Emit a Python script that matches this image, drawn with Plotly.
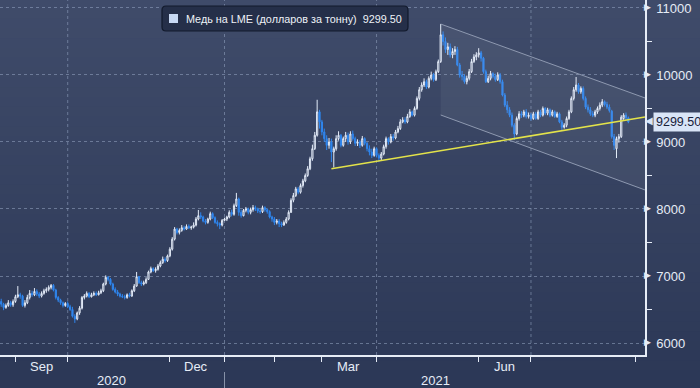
import plotly.graph_objects as go
import pandas as pd

# ---------------- data ----------------
dates = pd.bdate_range("2020-08-24", periods=265)

open_ = [
    6620, 6580, 6530, 6560, 6600,
    6570, 6620, 6690, 6720, 6700,
    6560, 6600, 6680, 6740, 6720,
    6770, 6730, 6700, 6740, 6780,
    6800, 6830, 6860, 6790, 6680,
    6640, 6600, 6560, 6590, 6540,
    6500, 6400, 6360, 6450, 6520,
    6680, 6700, 6740, 6690, 6720,
    6740, 6720, 6750, 6780, 6880,
    6980, 6950, 6880, 6800, 6760,
    6730, 6700, 6690, 6680, 6720,
    6700, 6780, 6850, 6990, 6900,
    6880, 6900, 6950, 7060, 7110,
    7080, 7100, 7150, 7200, 7250,
    7230, 7300, 7400, 7550, 7700,
    7650, 7680, 7720, 7700, 7740,
    7720, 7730, 7760, 7850, 7900,
    7880, 7820, 7800, 7850, 7930,
    7870, 7800, 7780, 7760, 7830,
    7850, 7880, 7950, 7920, 8050,
    8150, 7950, 7900, 7980, 8000,
    7950, 7990, 8020, 8000, 7970,
    7960, 8020, 7990, 7960, 7880,
    7850, 7800, 7820, 7780, 7760,
    7800, 7850, 7950, 8130, 8200,
    8300, 8250, 8350, 8420, 8500,
    8600, 8750, 8900, 9100, 9450,
    9300, 9150, 9050, 8950, 9000,
    8850, 8900, 9050, 9100, 8950,
    9050, 9100, 9000, 9120, 9050,
    8980, 9000, 8950, 9050, 8980,
    8900, 8850, 8800, 8900, 8800,
    8760, 8820, 8930, 9050, 9000,
    9080, 9060, 9150, 9200, 9300,
    9330, 9300, 9380, 9450, 9400,
    9500, 9650, 9780, 9850, 9900,
    9820, 9950, 10000, 9930, 10050,
    10200, 10600, 10500, 10380, 10420,
    10300, 10350, 10380, 10150, 10000,
    9980, 9900, 9950, 10050, 10200,
    10270, 10300, 10330, 10250, 10050,
    9900, 9950, 10020, 9980, 9930,
    10000, 9900, 9700, 9550, 9480,
    9400, 9250, 9120, 9350, 9420,
    9400, 9450, 9380, 9400, 9350,
    9420, 9350, 9450, 9400, 9500,
    9430, 9480, 9400, 9450, 9380,
    9420, 9300, 9220, 9250, 9350,
    9450, 9650, 9780, 9850, 9750,
    9800, 9650, 9520, 9480, 9420,
    9400, 9450, 9500, 9550, 9600,
    9560, 9520, 9460, 9080, 8900,
    9050, 9080, 9350, 9400, 9360,
]

close = [
    6580, 6530, 6560, 6600, 6570,
    6620, 6690, 6720, 6700, 6560,
    6600, 6680, 6740, 6720, 6770,
    6730, 6700, 6740, 6780, 6800,
    6830, 6860, 6790, 6680, 6640,
    6600, 6560, 6590, 6540, 6500,
    6400, 6360, 6450, 6520, 6680,
    6700, 6740, 6690, 6720, 6740,
    6720, 6750, 6780, 6880, 6980,
    6950, 6880, 6800, 6760, 6730,
    6700, 6690, 6680, 6720, 6700,
    6780, 6850, 6990, 6900, 6880,
    6900, 6950, 7060, 7110, 7080,
    7100, 7150, 7200, 7250, 7230,
    7300, 7400, 7550, 7700, 7650,
    7680, 7720, 7700, 7740, 7720,
    7730, 7760, 7850, 7900, 7880,
    7820, 7800, 7850, 7930, 7870,
    7800, 7780, 7760, 7830, 7850,
    7880, 7950, 7920, 8050, 8150,
    7950, 7900, 7980, 8000, 7950,
    7990, 8020, 8000, 7970, 7960,
    8020, 7990, 7960, 7880, 7850,
    7800, 7820, 7780, 7760, 7800,
    7850, 7950, 8130, 8200, 8300,
    8250, 8350, 8420, 8500, 8600,
    8750, 8900, 9100, 9450, 9300,
    9150, 9050, 8950, 9000, 8850,
    8900, 9050, 9100, 8950, 9050,
    9100, 9000, 9120, 9050, 8980,
    9000, 8950, 9050, 8980, 8900,
    8850, 8800, 8900, 8800, 8760,
    8820, 8930, 9050, 9000, 9080,
    9060, 9150, 9200, 9300, 9330,
    9300, 9380, 9450, 9400, 9500,
    9650, 9780, 9850, 9900, 9820,
    9950, 10000, 9930, 10050, 10200,
    10600, 10500, 10380, 10420, 10300,
    10350, 10380, 10150, 10000, 9980,
    9900, 9950, 10050, 10200, 10270,
    10300, 10330, 10250, 10050, 9900,
    9950, 10020, 9980, 9930, 10000,
    9900, 9700, 9550, 9480, 9400,
    9250, 9120, 9350, 9420, 9400,
    9450, 9380, 9400, 9350, 9420,
    9350, 9450, 9400, 9500, 9430,
    9480, 9400, 9450, 9380, 9420,
    9300, 9220, 9250, 9350, 9450,
    9650, 9780, 9850, 9750, 9800,
    9650, 9520, 9480, 9420, 9400,
    9450, 9500, 9550, 9600, 9560,
    9520, 9470, 9080, 8950, 9050,
    9080, 9370, 9400, 9360, 9299.5,
]

high = [
    6660, 6600, 6590, 6640, 6630,
    6650, 6720, 6850, 6750, 6720,
    6640, 6720, 6790, 6780, 6820,
    6800, 6760, 6770, 6810, 6830,
    6860, 6880, 6880, 6810, 6700,
    6660, 6620, 6610, 6620, 6570,
    6540, 6430, 6470, 6550, 6700,
    6730, 6770, 6760, 6750, 6770,
    6770, 6780, 6810, 6900, 7010,
    7000, 6970, 6900, 6830, 6790,
    6750, 6730, 6720, 6740, 6750,
    6800, 6880, 7060, 7000, 6930,
    6930, 6980, 7080, 7140, 7130,
    7130, 7180, 7230, 7290, 7280,
    7320, 7430, 7580, 7730, 7720,
    7710, 7760, 7750, 7770, 7770,
    7750, 7800, 7880, 7985, 7950,
    7900, 7850, 7870, 7960, 7950,
    7890, 7830, 7800, 7850, 7870,
    7900, 7980, 7990, 8080, 8240,
    8170, 7990, 8000, 8030, 8020,
    8020, 8060, 8050, 8020, 8000,
    8050, 8040, 8010, 7980, 7900,
    7880, 7850, 7850, 7810, 7830,
    7880, 7980, 8160, 8240, 8330,
    8330, 8380, 8450, 8530, 8640,
    8780, 8960, 9150, 9630, 9480,
    9330, 9200, 9100, 9060, 9050,
    8930, 9100, 9160, 9120, 9080,
    9150, 9140, 9160, 9170, 9080,
    9040, 9030, 9090, 9070, 9000,
    8950, 8900, 8930, 8920, 8830,
    8850, 8960, 9080, 9070, 9120,
    9120, 9180, 9240, 9340, 9370,
    9370, 9420, 9490, 9470, 9530,
    9680, 9820, 9890, 9950, 9930,
    9980, 10050, 10030, 10080, 10230,
    10760, 10650, 10560, 10480, 10470,
    10400, 10430, 10420, 10180, 10060,
    10010, 9990, 10090, 10240, 10310,
    10340, 10400, 10360, 10270, 10080,
    9990, 10060, 10040, 10020, 10040,
    10030, 9930, 9730, 9610, 9520,
    9440, 9280, 9380, 9460, 9460,
    9480, 9490, 9440, 9430, 9450,
    9450, 9480, 9480, 9530, 9520,
    9510, 9500, 9480, 9470, 9450,
    9440, 9330, 9280, 9380, 9480,
    9680, 9820, 9970, 9880, 9830,
    9830, 9680, 9560, 9520, 9460,
    9480, 9530, 9590, 9640, 9620,
    9600, 9560, 9480, 9120, 9080,
    9120, 9400, 9430, 9440, 9380,
]

low = [
    6540, 6490, 6510, 6540, 6540,
    6540, 6600, 6670, 6660, 6540,
    6530, 6580, 6650, 6690, 6700,
    6700, 6670, 6680, 6720, 6750,
    6770, 6800, 6770, 6650, 6610,
    6570, 6530, 6540, 6520, 6480,
    6380, 6300, 6340, 6420, 6500,
    6650, 6680, 6670, 6680, 6700,
    6700, 6710, 6730, 6760, 6860,
    6920, 6860, 6780, 6740, 6700,
    6680, 6670, 6650, 6660, 6680,
    6690, 6760, 6840, 6880, 6850,
    6860, 6880, 6940, 7040, 7060,
    7050, 7080, 7130, 7180, 7200,
    7210, 7280, 7380, 7530, 7620,
    7620, 7660, 7680, 7690, 7700,
    7690, 7710, 7740, 7830, 7850,
    7800, 7770, 7780, 7830, 7850,
    7780, 7740, 7700, 7740, 7820,
    7820, 7860, 7890, 7900, 8030,
    7900, 7870, 7890, 7950, 7920,
    7920, 7960, 7970, 7940, 7930,
    7940, 7960, 7930, 7860, 7810,
    7760, 7770, 7730, 7730, 7750,
    7780, 7830, 7940, 8100, 8180,
    8220, 8230, 8320, 8400, 8480,
    8580, 8720, 8880, 9080, 9200,
    9100, 9000, 8880, 8900, 8700,
    8620, 8870, 9020, 8920, 8930,
    9000, 8960, 8970, 9020, 8940,
    8940, 8910, 8930, 8950, 8860,
    8800, 8760, 8780, 8770, 8700,
    8720, 8800, 8900, 8960, 8980,
    9020, 9040, 9130, 9180, 9280,
    9270, 9280, 9360, 9380, 9380,
    9480, 9620, 9750, 9820, 9790,
    9800, 9920, 9900, 9910, 10030,
    10180, 10440, 10330, 10300, 10260,
    10250, 10300, 10130, 9960, 9920,
    9870, 9860, 9920, 10030, 10180,
    10220, 10260, 10200, 10020, 9880,
    9880, 9920, 9950, 9900, 9910,
    9870, 9680, 9520, 9430, 9370,
    9220, 9030, 9100, 9320, 9360,
    9370, 9350, 9350, 9320, 9330,
    9330, 9330, 9370, 9380, 9400,
    9400, 9370, 9380, 9360, 9360,
    9280, 9180, 9200, 9220, 9330,
    9430, 9620, 9750, 9720, 9720,
    9620, 9490, 9440, 9390, 9370,
    9370, 9420, 9470, 9520, 9530,
    9490, 9440, 9050, 8880, 8760,
    8990, 9060, 9330, 9320, 9280,
]

# trend lines drawn on the chart (date, price endpoints)
channel_dates = ["2021-05-10", "2021-09-07"]
channel_upper = [10760, 9657]
channel_lower = [9403, 8284]
support_dates = ["2021-03-05", "2021-09-07"]
support_values = [8600, 9373]

y_ticks = [6000, 7000, 8000, 9000, 10000, 11000]
y_minor = [6500, 7500, 8500, 9500, 10500]
month_ticks = ["2020-09-01", "2020-10-01", "2020-11-01", "2020-12-01",
               "2021-01-01", "2021-02-01", "2021-03-01", "2021-04-01",
               "2021-05-01", "2021-06-01", "2021-07-01", "2021-08-01",
               "2021-09-01"]
grid_dates = ["2020-10-01", "2021-01-01", "2021-04-01", "2021-07-01"]
month_labels = ["Sep", "Dec", "Mar", "Jun"]
month_label_dates = ["2020-09-16", "2020-12-16", "2021-03-16", "2021-06-16"]
year_labels = ["2020", "2021"]
last_price = 9299.50
series_name = "Медь на LME (долларов за тонну)"

# ---------------- figure ----------------
FONT = "Liberation Sans, Arial, sans-serif"
TXT = "#e6ecf6"
TAG = "#d9e5f7"
Y_RANGE = [5821, 11119]
X_RANGE = ["2020-08-21 12:00", "2021-09-07"]
PLOT_W, PLOT_H = 645, 355          # plot-area size in px (from margins)


def ypaper(v):
    return (v - Y_RANGE[0]) / (Y_RANGE[1] - Y_RANGE[0])


fig = go.Figure()

# channel fill
fig.add_trace(go.Scatter(
    x=[channel_dates[0], channel_dates[1], channel_dates[1], channel_dates[0]],
    y=[channel_upper[0], channel_upper[1], channel_lower[1], channel_lower[0]],
    fill="toself", fillcolor="rgba(255,255,255,0.055)",
    line=dict(width=0), mode="lines", showlegend=False, hoverinfo="skip"))

fig.add_trace(go.Candlestick(
    x=dates, open=open_, high=high, low=low, close=close,
    increasing=dict(line=dict(color="#e4ecf9", width=1), fillcolor="rgba(0,0,0,0)"),
    decreasing=dict(line=dict(color="#2f86ee", width=1), fillcolor="#2f86ee"),
    whiskerwidth=0, showlegend=False))

for yy in (channel_upper, channel_lower):
    fig.add_trace(go.Scatter(x=channel_dates, y=yy, mode="lines",
                             line=dict(color="#8e99b0", width=1),
                             showlegend=False, hoverinfo="skip"))
fig.add_trace(go.Scatter(x=support_dates, y=support_values, mode="lines",
                         line=dict(color="#e3e34a", width=1.5),
                         showlegend=False, hoverinfo="skip"))

shapes = []
# vertical gradient background
top = (63, 75, 106)
bot = (44, 56, 86)
n = 40
y_top, y_bot = 1.0, -0.1
for k in range(n):
    t = k / (n - 1)
    c = tuple(round(top[j] + (bot[j] - top[j]) * t) for j in range(3))
    y1 = y_top - (y_top - y_bot) * k / n
    y0 = y_top - (y_top - y_bot) * (k + 1) / n
    shapes.append(dict(type="rect", xref="paper", yref="paper",
                       x0=-0.01, x1=1.1, y0=y0 - 0.002, y1=y1 + 0.002,
                       fillcolor="rgb(%d,%d,%d)" % c, line=dict(width=0),
                       layer="below"))
for d in grid_dates:
    shapes.append(dict(type="line", xref="x", yref="paper", x0=d, x1=d,
                       y0=0, y1=1, line=dict(color="rgba(150,165,195,0.55)",
                                             width=1, dash="dot"),
                       layer="below"))
# year separator
shapes.append(dict(type="line", xref="x", yref="paper", x0="2021-01-01",
                   x1="2021-01-01", y0=-0.048, y1=-0.095,
                   line=dict(color="#8792a8", width=1)))

# legend box (rounded rect) and colour square
lx0, lx1 = 162 / PLOT_W, 408 / PLOT_W
ly1, ly0 = 1 - 6 / PLOT_H, 1 - 31 / PLOT_H
rx, ry = 4 / PLOT_W, 4 / PLOT_H
shapes.append(dict(
    type="path", xref="paper", yref="paper",
    path=("M %f,%f L %f,%f Q %f,%f %f,%f L %f,%f Q %f,%f %f,%f "
          "L %f,%f Q %f,%f %f,%f L %f,%f Q %f,%f %f,%f Z") % (
        lx0 + rx, ly1, lx1 - rx, ly1, lx1, ly1, lx1, ly1 - ry,
        lx1, ly0 + ry, lx1, ly0, lx1 - rx, ly0,
        lx0 + rx, ly0, lx0, ly0, lx0, ly0 + ry,
        lx0, ly1 - ry, lx0, ly1, lx0 + rx, ly1),
    fillcolor="#252f49", line=dict(color="#121a2c", width=1.2)))
shapes.append(dict(type="rect", xref="paper", yref="paper",
                   x0=169 / PLOT_W, x1=178 / PLOT_W,
                   y0=1 - 23 / PLOT_H, y1=1 - 14 / PLOT_H,
                   fillcolor="#c8d9f4", line=dict(width=0)))

annotations = []
for lab, d in zip(month_labels, month_label_dates):
    annotations.append(dict(x=d, xref="x", y=-0.031, yref="paper",
                            text=lab, showarrow=False, yanchor="middle",
                            font=dict(family=FONT, size=13, color=TXT)))
for lab, xp in zip(year_labels, [111 / PLOT_W, 435 / PLOT_W]):
    annotations.append(dict(x=xp, xref="paper", y=-0.073, yref="paper",
                            text=lab, showarrow=False, yanchor="middle",
                            xanchor="center",
                            font=dict(family=FONT, size=13, color=TXT)))
annotations.append(dict(
    x=184 / PLOT_W, xref="paper", y=1 - 18.5 / PLOT_H, yref="paper",
    xanchor="left", yanchor="middle", showarrow=False,
    text="%s  %.2f" % (series_name, last_price),
    font=dict(family=FONT, size=10.8, color="#eef2f8")))
# triangular flags on the major y ticks
for v in y_ticks:
    annotations.append(dict(
        x=1, xref="paper", y=ypaper(v), yref="paper", xanchor="left",
        yanchor="middle", showarrow=False, text="▶", xshift=-2, yshift=1,
        borderpad=0, font=dict(family="DejaVu Sans", size=9, color=TXT)))
# price tag: pointer + box
yp_last = ypaper(last_price)
annotations.append(dict(
    x=1, xref="paper", y=yp_last, yref="paper", xanchor="left",
    yanchor="middle", showarrow=False, text="◀", xshift=-1, yshift=1,
    borderpad=0, font=dict(family="DejaVu Sans", size=10, color=TAG)))
annotations.append(dict(
    x=1 + 8 / PLOT_W, xref="paper", y=yp_last, yref="paper",
    xanchor="left", yanchor="middle", showarrow=False,
    text="%.2f" % last_price,
    font=dict(family=FONT, size=12.5, color="#18213a"),
    bgcolor=TAG, borderpad=2))

fig.update_layout(
    width=700, height=388,
    margin=dict(l=0, r=55, t=0, b=33, autoexpand=False),
    paper_bgcolor="#333f5d", plot_bgcolor="rgba(0,0,0,0)",
    shapes=shapes, annotations=annotations, showlegend=False,
    font=dict(family=FONT, color=TXT),
    xaxis=dict(
        type="date",
        range=X_RANGE,
        rangebreaks=[dict(bounds=["sat", "mon"])],
        rangeslider=dict(visible=False),
        tickmode="array", tickvals=month_ticks,
        ticktext=[""] * len(month_ticks),
        ticks="outside", ticklen=5, tickcolor=TXT, tickwidth=1,
        showline=True, linecolor=TXT, linewidth=1.5,
        showgrid=False, zeroline=False, fixedrange=True, automargin=False),
    yaxis=dict(
        side="right", range=Y_RANGE, automargin=False,
        tickmode="array", tickvals=y_ticks,
        ticktext=["%d" % v for v in y_ticks],
        ticks="outside", ticklen=7, tickcolor="rgba(0,0,0,0)",
        showline=True, linecolor=TXT, linewidth=1.5,
        tickfont=dict(family=FONT, size=13, color=TXT),
        showgrid=True, gridcolor="rgba(150,165,195,0.55)", griddash="dot",
        gridwidth=1, zeroline=False,
        minor=dict(tickvals=y_minor, ticks="outside", ticklen=5,
                   tickcolor=TXT, showgrid=False)),
)

fig.write_html("out.html",
               config={"displayModeBar": False},
               post_script="document.body.style.margin='0';"
                           "document.body.style.overflow='hidden';")
